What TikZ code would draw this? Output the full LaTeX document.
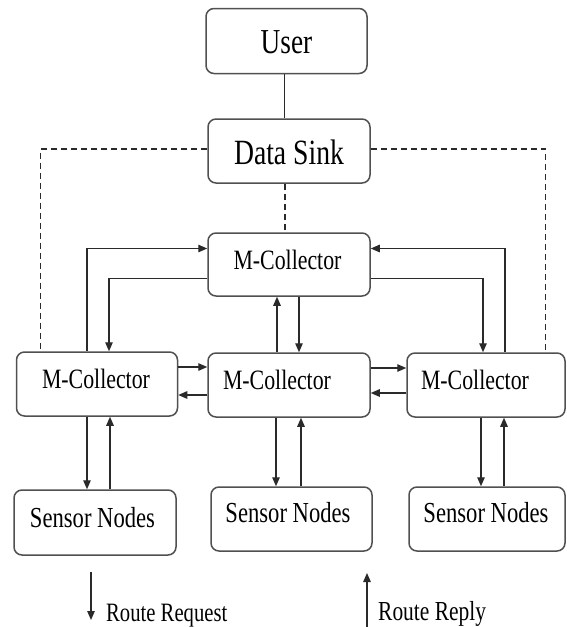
\documentclass[tikz,border=0pt]{standalone}
\usepackage{fontspec}
\setmainfont{Liberation Serif}[FakeStretch=0.78]
\usetikzlibrary{arrows.meta,calc}
\definecolor{boxline}{HTML}{505050}
\definecolor{conn}{HTML}{2A2A2A}
\tikzset{
  box/.style={draw=boxline, line width=1.5pt, rounded corners=8pt, minimum height=64pt, inner sep=0pt},
  lbl/.style={anchor=base, inner sep=0pt, text=black},
  arr/.style={draw=conn, line width=1.3pt, -{Triangle[length=9pt,width=7.5pt]}},
  ln/.style={draw=conn, line width=1.3pt},
  dsh/.style={draw=conn, line width=1.3pt, dash pattern=on 6pt off 4pt},
}
\begin{document}
\begin{tikzpicture}[x=1pt,y=-1pt]
\useasboundingbox (0,0) rectangle (566,627);
% boxes
\node[box, minimum width=161pt, minimum height=65pt] (user) at (286.5,41) {};
\node[box, minimum width=162pt] (sink) at (289,151) {};
\node[box, minimum width=162pt, minimum height=63pt] (mtop) at (289,264.5) {};
\node[box, minimum width=161pt] (mleft) at (97,384) {};
\node[box, minimum width=162pt] (mmid) at (289,385) {};
\node[box, minimum width=158pt] (mright) at (486,385) {};
\node[box, minimum width=162pt, minimum height=65pt] (sleft) at (95,522.5) {};
\node[box, minimum width=161pt] (smid) at (291.5,519) {};
\node[box, minimum width=156pt] (sright) at (487,519) {};
% labels
\node[lbl, font=\fontsize{35}{40}\selectfont] (tuser) at (286.5,53) {User};
\node[lbl, font=\fontsize{35.5}{40}\selectfont] (tsink) at (289,164) {Data Sink};
\node[lbl, font=\fontsize{28}{32}\selectfont] (tmtop) at (287.5,269) {M-Collector};
\node[lbl, font=\fontsize{28}{32}\selectfont] (tmleft) at (96,388) {M-Collector};
\node[lbl, font=\fontsize{28}{32}\selectfont] (tmmid) at (277,389) {M-Collector};
\node[lbl, font=\fontsize{28}{32}\selectfont] (tmright) at (475,389) {M-Collector};
\node[lbl, font=\fontsize{29}{33}\selectfont] (tsleft) at (92.5,527.5) {Sensor Nodes};
\node[lbl, font=\fontsize{29}{33}\selectfont] (tsmid) at (288,522.5) {Sensor Nodes};
\node[lbl, font=\fontsize{29}{33}\selectfont] (tsright) at (486,522.5) {Sensor Nodes};
% user - sink
\draw[ln] ([xshift=-2pt]user.south) -- ([xshift=-2pt]user.south |- sink.north);
% dashed
\draw[dsh] ([yshift=2pt]sink.west) -| ([xshift=25pt]mleft.north west);
\draw[dsh] ([yshift=2pt]sink.east) -| ([xshift=-20pt]mright.north east);
\draw[dsh] ([xshift=-4pt]sink.south) -- ([xshift=-4pt]mtop.north);
% top collector links
\draw[arr] ([xshift=-10pt]mleft.north) |- ([yshift=16pt]mtop.west);
\draw[arr] ([yshift=-14pt]mtop.west) -| ([xshift=12pt]mleft.north);
\draw[arr] ([xshift=19pt]mright.north) |- ([yshift=16pt]mtop.east);
\draw[arr] ([yshift=-14pt]mtop.east) -| ([xshift=-3pt]mright.north);
\draw[arr] ([xshift=-12pt]mmid.north) -- ([xshift=-12pt]mtop.south);
\draw[arr] ([xshift=10pt]mtop.south) -- ([xshift=10pt]mmid.north);
% horizontal links
\draw[arr] ([yshift=17pt]mleft.east) -- ([yshift=17pt]mleft.east -| mmid.west);
\draw[arr] ([yshift=-10pt]mmid.west) -- ([yshift=-10pt]mmid.west -| mleft.east);
\draw[arr] ([yshift=17pt]mmid.east) -- ([yshift=17pt]mmid.east -| mright.west);
\draw[arr] ([yshift=-8pt]mright.west) -- ([yshift=-8pt]mright.west -| mmid.east);
% sensor links
\draw[arr] ([xshift=-10pt]mleft.south) -- ([xshift=-10pt]mleft.south |- sleft.north);
\draw[arr] ([xshift=13pt]mleft.south |- sleft.north) -- ([xshift=13pt]mleft.south);
\draw[arr] ([xshift=-13pt]mmid.south) -- ([xshift=-13pt]mmid.south |- smid.north);
\draw[arr] ([xshift=12pt]mmid.south |- smid.north) -- ([xshift=12pt]mmid.south);
\draw[arr] ([xshift=-5pt]mright.south) -- ([xshift=-5pt]mright.south |- sright.north);
\draw[arr] ([xshift=18pt]mright.south |- sright.north) -- ([xshift=18pt]mright.south);
% legend
\coordinate (rq1) at (91,572);
\coordinate (rq2) at (91,620);
\coordinate (rp1) at (367,627);
\coordinate (rp2) at (367,573);
\draw[arr] (rq1) -- (rq2);
\draw[arr] (rp1) -- (rp2);
\node[lbl, anchor=base west, font=\fontsize{26.5}{30}\selectfont] (treq) at (106,621) {Route Request};
\node[lbl, anchor=base west, font=\fontsize{27.5}{31}\selectfont] (trep) at (378,620) {Route Reply};
\end{tikzpicture}
\end{document}
